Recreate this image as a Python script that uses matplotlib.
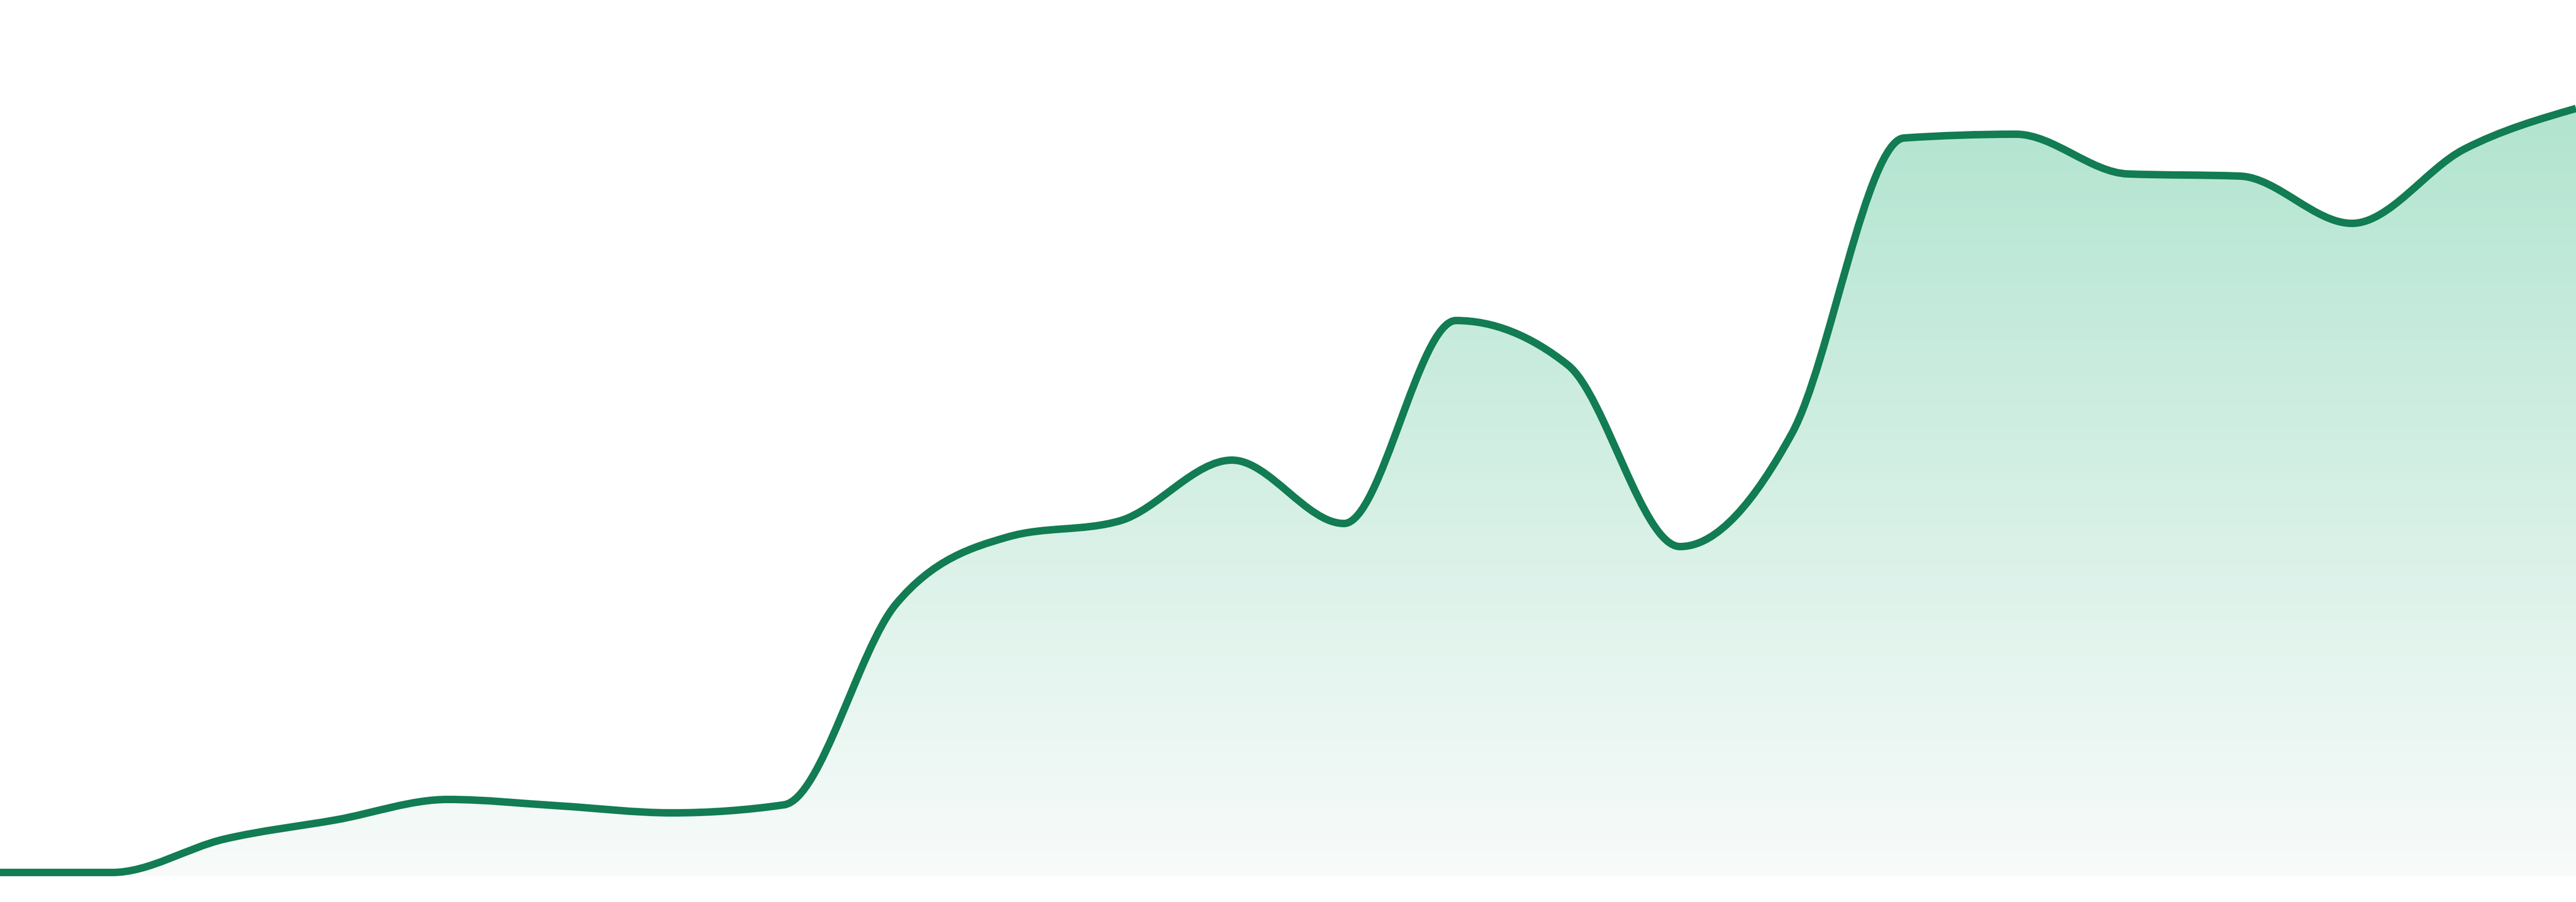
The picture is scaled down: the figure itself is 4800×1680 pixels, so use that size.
import numpy as np
import matplotlib
matplotlib.use("Agg")
import matplotlib.pyplot as plt
from matplotlib.path import Path
from matplotlib.patches import PathPatch
from matplotlib.colors import LinearSegmentedColormap

# series (24 evenly spaced samples)
steps = list(range(24))
values = [0, 0, 6.2, 9.8, 13.6, 12.4, 11.1, 12.6, 50.0, 62.5, 65.5, 76.8,
          65.0, 102.8, 94.5, 60.7, 81.8, 136.8, 137.5, 130.1, 129.7, 120.9,
          134.7, 142.3]

line_color = "#127c53"
fill_top = "#a8e1ca"
fill_bottom = "#f8fbfa"
y_min, y_max = -0.7, 162.5


def _sign(v):
    return -1.0 if v < 0 else 1.0


def monotone_tangents(x, y):
    # same tangents as d3.curveMonotoneX
    n = len(x)
    t = [0.0] * n
    for i in range(1, n - 1):
        h0 = x[i] - x[i - 1]
        h1 = x[i + 1] - x[i]
        s0 = (y[i] - y[i - 1]) / h0
        s1 = (y[i + 1] - y[i]) / h1
        p = (s0 * h1 + s1 * h0) / (h0 + h1)
        t[i] = (_sign(s0) + _sign(s1)) * min(abs(s0), abs(s1), 0.5 * abs(p))
    h = x[1] - x[0]
    t[0] = (3 * (y[1] - y[0]) / h - t[1]) / 2
    h = x[-1] - x[-2]
    t[-1] = (3 * (y[-1] - y[-2]) / h - t[-2]) / 2
    return t


def curve_path(x, y, close_at=None):
    t = monotone_tangents(x, y)
    verts = [(x[0], y[0])]
    codes = [Path.MOVETO]
    for i in range(len(x) - 1):
        dx = (x[i + 1] - x[i]) / 3
        verts += [(x[i] + dx, y[i] + dx * t[i]),
                  (x[i + 1] - dx, y[i + 1] - dx * t[i + 1]),
                  (x[i + 1], y[i + 1])]
        codes += [Path.CURVE4] * 3
    if close_at is not None:
        verts += [(x[-1], close_at), (x[0], close_at), (x[0], y[0])]
        codes += [Path.LINETO, Path.LINETO, Path.CLOSEPOLY]
    return Path(verts, codes)


fig = plt.figure(figsize=(48, 16.8), dpi=100)
ax = fig.add_axes([0, 48 / 1680, 1, 1632 / 1680])
ax.set_xlim(steps[0], steps[-1])
ax.set_ylim(y_min, y_max)
ax.axis("off")

# gradient fill under the curve
area = PathPatch(curve_path(steps, values, close_at=y_min),
                 facecolor="none", edgecolor="none")
ax.add_patch(area)
cmap = LinearSegmentedColormap.from_list("fade", [fill_bottom, fill_top])
grad = np.linspace(0, 1, 256).reshape(-1, 1)
img = ax.imshow(grad, cmap=cmap, origin="lower", aspect="auto",
                extent=[steps[0], steps[-1], y_min, y_max], zorder=1)
img.set_clip_path(area)

# the line itself
ax.add_patch(PathPatch(curve_path(steps, values), facecolor="none",
                       edgecolor=line_color, lw=10, capstyle="butt",
                       joinstyle="round", zorder=2))

fig.savefig("out.png", dpi=100, facecolor="white")
